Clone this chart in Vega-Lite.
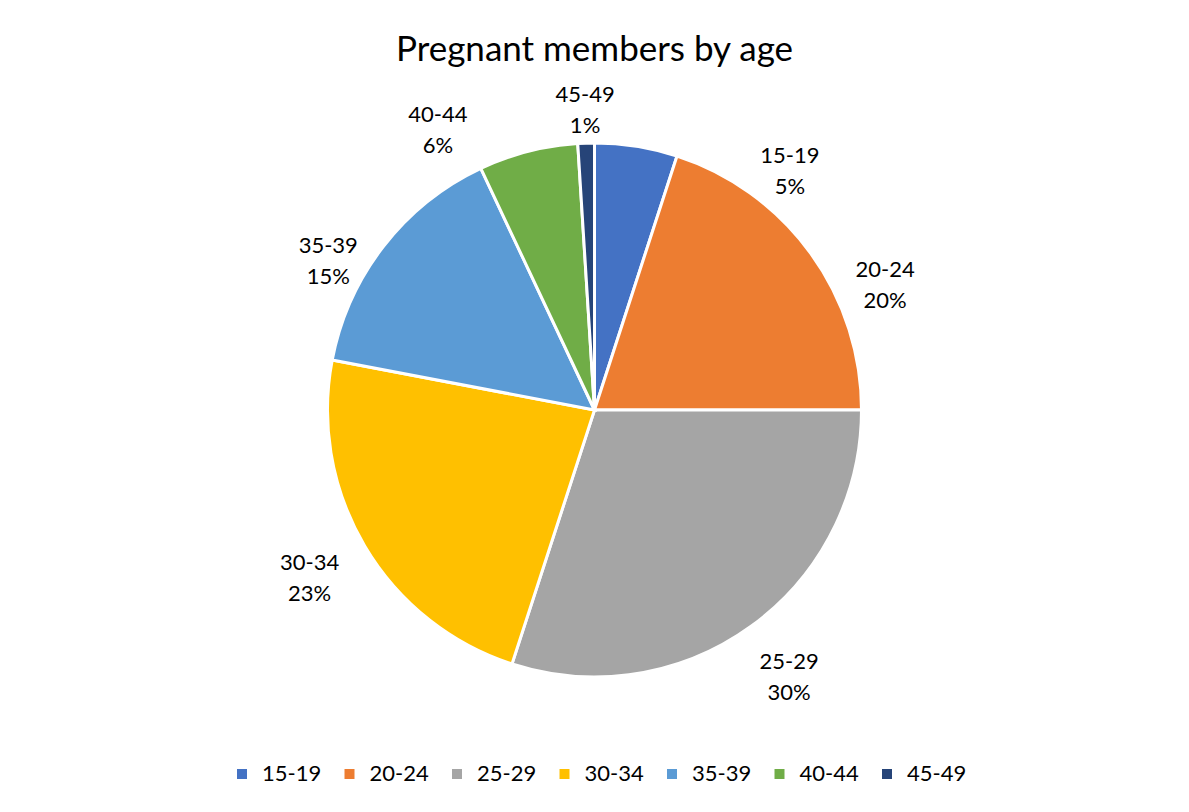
{
  "$schema": "https://vega.github.io/schema/vega-lite/v6.json",
  "autosize": "none",
  "width": 1189,
  "height": 660,
  "padding": {"top": 80, "bottom": 72, "left": 0, "right": 0},
  "background": "white",
  "title": {
    "text": "Pregnant members by age",
    "font": "Lato",
    "fontSize": 35,
    "fontWeight": "normal",
    "color": "#000000",
    "anchor": "middle",
    "offset": -1,
    "dy": 14
  },
  "config": {"view": {"stroke": null}},
  "data": {
    "values": [
      {"age": "15-19", "pct": 5},
      {"age": "20-24", "pct": 20},
      {"age": "25-29", "pct": 30},
      {"age": "30-34", "pct": 23},
      {"age": "35-39", "pct": 15},
      {"age": "40-44", "pct": 6},
      {"age": "45-49", "pct": 1}
    ]
  },
  "transform": [
    {"calculate": "[datum.age, datum.pct + '%']", "as": "label"}
  ],
  "encoding": {
    "theta": {"field": "pct", "type": "quantitative", "stack": true},
    "order": {"field": "age", "type": "ordinal", "sort": "ascending"}
  },
  "layer": [
    {
      "mark": {"type": "arc", "outerRadius": 267, "stroke": "white", "strokeWidth": 3},
      "encoding": {
        "color": {
          "field": "age",
          "type": "nominal",
          "scale": {
            "domain": ["15-19", "20-24", "25-29", "30-34", "35-39", "40-44", "45-49"],
            "range": ["#4472C4", "#ED7D31", "#A5A5A5", "#FFC000", "#5B9BD5", "#70AD47", "#264478"]
          },
          "legend": {
            "title": null,
            "orient": "none",
            "direction": "horizontal",
            "legendX": 231,
            "legendY": 683,
            "symbolType": "square",
            "symbolSize": 100,
            "symbolStrokeWidth": 0,
            "labelFont": "Lato",
            "labelFontSize": 22,
            "labelColor": "#000000",
            "labelOffset": 9,
            "columnPadding": 16.5,
            "symbolOpacity": 1
          }
        }
      }
    },
    {
      "mark": {"type": "text", "radius": 331, "dy": -15.5, "font": "Lato", "fontSize": 22, "lineHeight": 31, "color": "#000000", "align": "center", "baseline": "middle"},
      "encoding": {"text": {"condition": {"test": "datum.age === '25-29' || datum.age === '30-34'", "field": "label"}, "value": ""}}
    },
    {
      "mark": {"type": "text", "radius": 300, "dy": -15.5, "font": "Lato", "fontSize": 22, "lineHeight": 31, "color": "#000000", "align": "center", "baseline": "middle"},
      "encoding": {"text": {"condition": {"test": "datum.age === '45-49'", "field": "label"}, "value": ""}}
    },
    {
      "mark": {"type": "text", "radius": 305, "thetaOffset": -0.15, "dy": -15.5, "font": "Lato", "fontSize": 22, "lineHeight": 31, "color": "#000000", "align": "center", "baseline": "middle"},
      "encoding": {"text": {"condition": {"test": "datum.age === '35-39'", "field": "label"}, "value": ""}}
    },
    {
      "mark": {"type": "text", "radius": 320, "thetaOffset": -0.26, "dy": -15.5, "font": "Lato", "fontSize": 22, "lineHeight": 31, "color": "#000000", "align": "center", "baseline": "middle"},
      "encoding": {"text": {"condition": {"test": "datum.age === '40-44'", "field": "label"}, "value": ""}}
    },
    {
      "mark": {"type": "text", "radius": 316, "thetaOffset": 0.225, "dy": -15.5, "font": "Lato", "fontSize": 22, "lineHeight": 31, "color": "#000000", "align": "center", "baseline": "middle"},
      "encoding": {"text": {"condition": {"test": "datum.age === '20-24'", "field": "label"}, "value": ""}}
    },
    {
      "mark": {"type": "text", "radius": 308, "thetaOffset": 0.53, "dy": -15.5, "font": "Lato", "fontSize": 22, "lineHeight": 31, "color": "#000000", "align": "center", "baseline": "middle"},
      "encoding": {"text": {"condition": {"test": "datum.age === '15-19'", "field": "label"}, "value": ""}}
    }
  ]
}
